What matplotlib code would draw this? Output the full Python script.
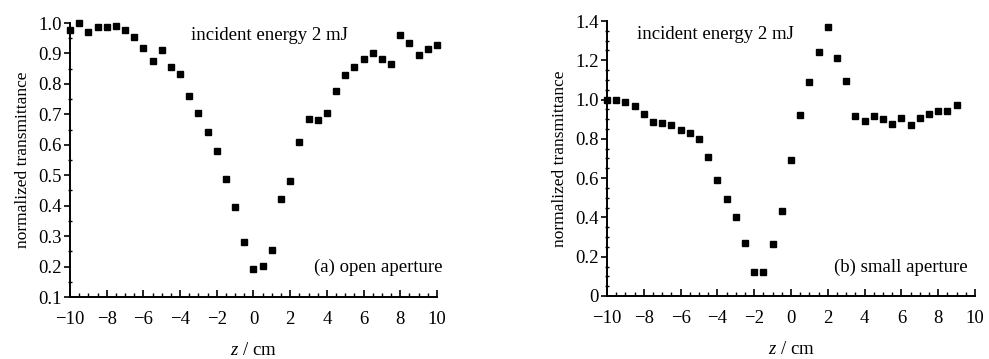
import matplotlib
matplotlib.use('Agg')
import matplotlib.pyplot as plt
from matplotlib.ticker import MultipleLocator, FormatStrFormatter

plt.rcParams['font.family'] = ['Liberation Serif', 'DejaVu Serif']
plt.rcParams['mathtext.fontset'] = 'custom'
plt.rcParams['mathtext.it'] = 'Liberation Serif:italic'
plt.rcParams['mathtext.rm'] = 'Liberation Serif'

# (a) open aperture
z_a = [-10, -9.5, -9, -8.5, -8, -7.5, -7, -6.5, -6, -5.5, -5, -4.5, -4, -3.5, -3,
       -2.5, -2, -1.5, -1, -0.5, 0, 0.5, 1, 1.5, 2, 2.5, 3, 3.5, 4, 4.5, 5, 5.5,
       6, 6.5, 7, 7.5, 8, 8.5, 9, 9.5, 10]
t_a = [0.977, 1.0, 0.971, 0.988, 0.987, 0.991, 0.977, 0.955, 0.917, 0.875, 0.911,
       0.856, 0.832, 0.761, 0.705, 0.642, 0.579, 0.488, 0.394, 0.281, 0.192, 0.201,
       0.256, 0.422, 0.480, 0.610, 0.686, 0.681, 0.705, 0.777, 0.828, 0.854, 0.882,
       0.902, 0.883, 0.864, 0.961, 0.935, 0.895, 0.914, 0.928]

# (b) small aperture
z_b = [-10, -9.5, -9, -8.5, -8, -7.5, -7, -6.5, -6, -5.5, -5, -4.5, -4, -3.5, -3,
       -2.5, -2, -1.5, -1, -0.5, 0, 0.5, 1, 1.5, 2, 2.5, 3, 3.5, 4, 4.5, 5, 5.5,
       6, 6.5, 7, 7.5, 8, 8.5, 9]
t_b = [1.0, 1.0, 0.988, 0.966, 0.926, 0.887, 0.882, 0.870, 0.844, 0.831, 0.797,
       0.706, 0.590, 0.493, 0.400, 0.268, 0.120, 0.120, 0.264, 0.432, 0.692, 0.921,
       1.090, 1.243, 1.367, 1.212, 1.095, 0.916, 0.892, 0.916, 0.899, 0.878, 0.904,
       0.870, 0.907, 0.929, 0.941, 0.941, 0.971]

fig = plt.figure(figsize=(9.89, 3.59), dpi=100)
ax1 = fig.add_axes([0.0708, 0.1727, 0.371, 0.7632])
ax2 = fig.add_axes([0.6138, 0.1755, 0.3721, 0.766])


def style(ax, ylo, yhi, ymaj, ymin, fmt):
    ax.set_xlim(-10, 10)
    ax.set_ylim(ylo, yhi)
    for s in ['top', 'right']:
        ax.spines[s].set_visible(False)
    for s in ['left', 'bottom']:
        ax.spines[s].set_linewidth(1.4)
    ax.xaxis.set_major_locator(MultipleLocator(2))
    ax.xaxis.set_minor_locator(MultipleLocator(0.5))
    ax.yaxis.set_major_locator(MultipleLocator(ymaj))
    ax.yaxis.set_minor_locator(MultipleLocator(ymin))
    ax.yaxis.set_major_formatter(fmt)
    ax.tick_params(axis='x', which='major', direction='in', length=5, width=1.2,
                   labelsize=13.5, pad=10)
    ax.tick_params(axis='x', which='minor', direction='in', length=3, width=1)
    ax.tick_params(axis='y', which='major', direction='out', length=4, width=1.2,
                   labelsize=13.5, pad=2)
    ax.tick_params(axis='y', which='minor', direction='inout', length=3, width=1)
    ax.set_xlabel('$z$ / cm', fontsize=13.5, labelpad=10)
    ax.set_ylabel('normalized transmittance', fontsize=12.5, labelpad=5)


ax1.plot(z_a, t_a, 's', color='black', markersize=3.9, clip_on=False)
style(ax1, 0.1, 1.0, 0.1, 0.05, FormatStrFormatter('%.1f'))
ax1.text(-3.4, 0.96, 'incident energy 2 mJ', fontsize=13.5, va='center', ha='left')
ax1.text(10.3, 0.199, '(a) open aperture', fontsize=13.5, va='center', ha='right')

ax2.plot(z_b, t_b, 's', color='black', markersize=3.9, clip_on=False)
style(ax2, 0.0, 1.4, 0.2, 0.05,
      plt.FuncFormatter(lambda v, p: '0' if abs(v) < 1e-9 else '%.1f' % v))
ax2.text(-8.37, 1.33, 'incident energy 2 mJ', fontsize=13.5, va='center', ha='left')
ax2.text(9.62, 0.148, '(b) small aperture', fontsize=13.5, va='center', ha='right')

fig.savefig('out.png', dpi=100)
